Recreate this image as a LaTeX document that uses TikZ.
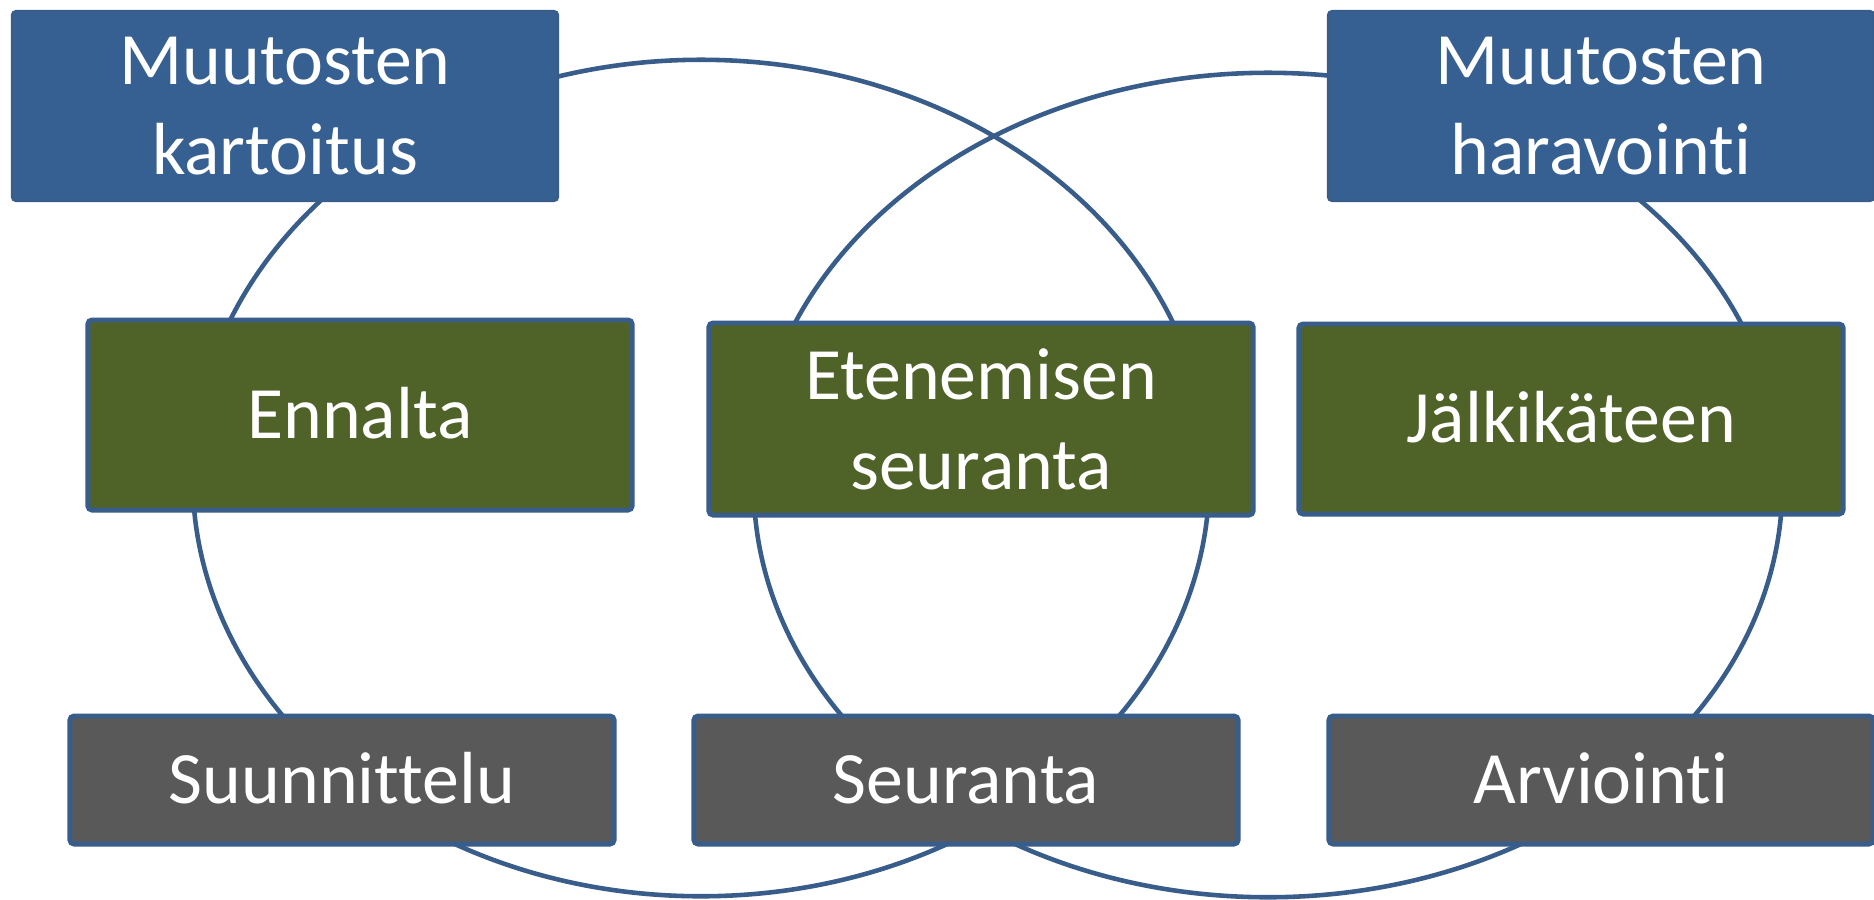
\documentclass[tikz,border=0pt]{standalone}
\usepackage{fontspec}
\setmainfont{Carlito}[Ligatures={NoCommon,NoContextual}]
\definecolor{boxblue}{HTML}{376092}
\definecolor{edgeblue}{HTML}{385D8A}
\definecolor{boxgreen}{HTML}{4F6228}
\definecolor{boxgray}{HTML}{595959}
\begin{document}
\begin{tikzpicture}[x=0.01cm,y=-0.01cm,
  box/.style={draw=edgeblue, line width=1.4pt, rounded corners=1.2pt, text=white,
    inner sep=0pt, font=\fontsize{21}{25.6}\selectfont},
  twoline/.style={align=center},
  topbox/.style={box, fill=boxblue, line width=0.6pt, minimum width=5.46cm, minimum height=1.9cm},
  midbox/.style={box, fill=boxgreen, minimum width=5.44cm, minimum height=1.9cm},
  lowbox/.style={box, fill=boxgray, minimum width=5.44cm, minimum height=1.28cm},
  oneline/.style={text height=13.3pt, text depth=0pt},
  ring/.style={draw=edgeblue, line width=1.3pt}]
\useasboundingbox (0,0) rectangle (1874,899);
\fill[white] (0,0) rectangle (1874,899);
% rings
\draw[ring] (701,478) ellipse [x radius=5.08cm, y radius=4.18cm];
\draw[ring] (1268,485) ellipse [x radius=5.14cm, y radius=4.12cm];
% top boxes
\node[topbox, twoline] (kartoitus) at (285,106) {Muutosten\\kartoitus};
\node[topbox, twoline] (haravointi) at (1601,106) {Muutosten\\haravointi};
% middle boxes
\node[midbox, oneline] (ennalta) at (360,415) {Ennalta};
\node[midbox, twoline, minimum height=1.92cm] (etenemisen) at (981,419) {Etenemisen\\seuranta};
\node[midbox, oneline] (jalkikateen) at (1571,419) {Jälkikäteen};
% bottom boxes
\node[lowbox, oneline] (suunnittelu) at (342,780) {Suunnittelu};
\node[lowbox, oneline] (seuranta) at (966,780) {Seuranta};
\node[lowbox, oneline] (arviointi) at (1601,780) {Arviointi};
\end{tikzpicture}
\end{document}
